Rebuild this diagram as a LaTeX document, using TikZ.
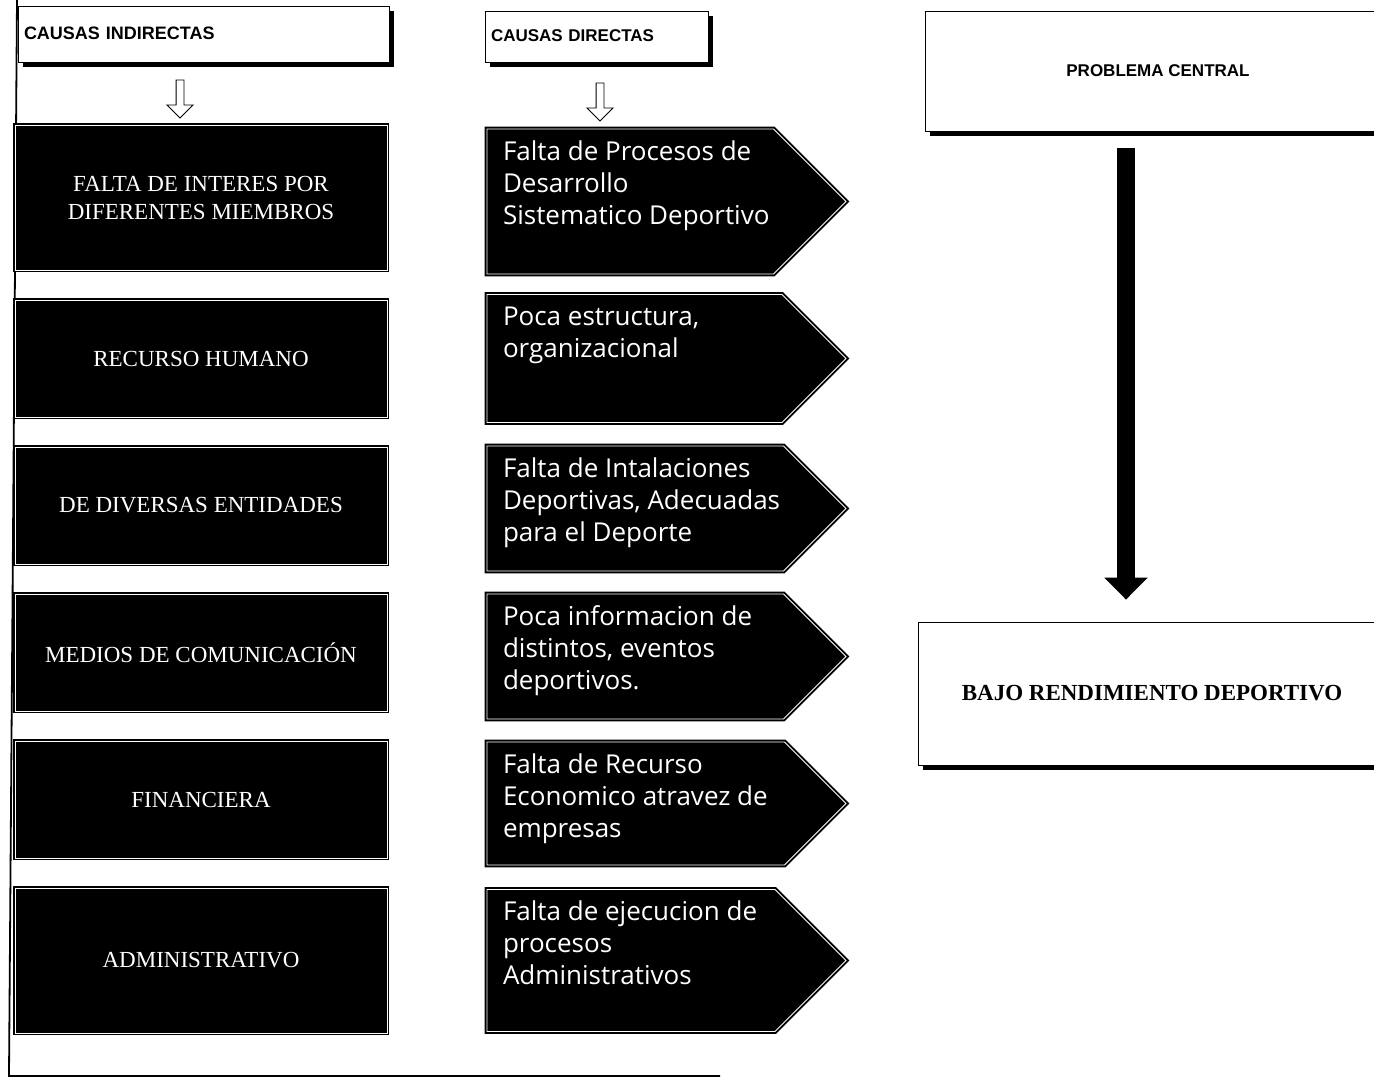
\documentclass[tikz,border=0pt]{standalone}
\usepackage{fontspec}
\setmainfont{Liberation Serif}
\setsansfont{Liberation Sans}
\newfontfamily\signfont{Open Sans}
\usetikzlibrary{shapes,arrows.meta,positioning,shadows}

\newcommand{\signtext}[2]{\parbox[c][\dimexpr#1-18pt\relax][t]{\dimexpr327pt-#1/2\relax}{\begin{tabular}{@{}l@{}}#2\end{tabular}}}

\begin{document}
\begin{tikzpicture}[
    x=1pt, y=-1pt,
    node distance=28pt and 98pt,
    header/.style={draw, thick, fill=white, inner xsep=6pt, align=left,
      drop shadow={shadow xshift=5pt, shadow yshift=-5pt, fill=black, opacity=1},
      font=\sffamily\bfseries\fontsize{17}{20}\selectfont},
    cause/.style={rectangle, fill=black, draw=black, line width=2pt,
      double=white, double distance=0.8pt, text=white, align=center,
      minimum width=372pt, minimum height=117pt,
      font=\fontsize{23}{28}\selectfont},
    effect/.style={signal, signal to=east, signal pointer angle=90,
      fill=black, draw=black, line width=2pt, double=white,
      double distance=0.8pt, text=white, inner xsep=16pt, inner ysep=9pt,
      font=\signfont\fontsize{26}{32}\selectfont},
    hollow/.style={single arrow, draw, thick, fill=white, inner sep=3.5pt,
      shape border rotate=270, minimum width=25pt, minimum height=38pt,
      single arrow head extend=9pt},
    bigarrow/.style={line width=18pt, -{Triangle[length=22pt, width=42pt]}}
  ]
  \useasboundingbox (0,0) rectangle (1374,1078);

  % Frame
  \draw[line width=1.8pt] (17,0) -- (9,1076) -- (720,1076);

  % Headers
  \node[header, minimum width=371pt, minimum height=56pt, text width=359pt,
    text depth=2pt, font=\sffamily\bfseries\fontsize{18}{20}\selectfont] (indir) at (203.5,34) {CAUSAS INDIRECTAS};
  \node[header, minimum width=223pt, minimum height=51pt, text width=211pt,
    text depth=2pt] (dir) at (596.5,37) {CAUSAS DIRECTAS};
  \node[header, minimum width=466pt, minimum height=120pt, align=center] (prob) at (1158,71) {PROBLEMA CENTRAL};
  \node[header, minimum width=468pt, minimum height=143pt, align=center,
    font=\bfseries\fontsize{23}{28}\selectfont] (bajo) at (1152,693.5) {BAJO RENDIMIENTO DEPORTIVO};

  \node[hollow] (a1) at (180,97) {};
  \node[hollow] (a2) at (600,100) {};

  % Indirect causes
  \node[cause, minimum height=145pt] (c1) at (201,197.5) {FALTA DE INTERES POR\\DIFERENTES MIEMBROS};
  \node[cause, below=of c1] (c2) {RECURSO HUMANO};
  \node[cause, below=of c2] (c3) {DE DIVERSAS ENTIDADES};
  \node[cause, below=of c3] (c4) {MEDIOS DE COMUNICACIÓN};
  \node[cause, below=of c4] (c5) {FINANCIERA};
  \node[cause, below=of c5, minimum height=145pt] (c6) {ADMINISTRATIVO};

  % Direct causes
  \node[effect, right=of c1, yshift=-4pt] (e1) {\signtext{145pt}{Falta de Procesos de\\Desarrollo\\Sistematico Deportivo}};
  \node[effect, right=of c2] (e2) {\signtext{128pt}{Poca estructura,\\organizacional}};
  \node[effect, right=of c3, yshift=-3pt] (e3) {\signtext{125pt}{Falta de Intalaciones\\Deportivas, Adecuadas\\para el Deporte}};
  \node[effect, right=of c4, yshift=-4pt] (e4) {\signtext{125pt}{Poca informacion de\\distintos, eventos\\deportivos.}};
  \node[effect, right=of c5, yshift=-4pt] (e5) {\signtext{123pt}{Falta de Recurso\\Economico atravez de\\empresas}};
  \node[effect, right=of c6] (e6) {\signtext{142pt}{Falta de ejecucion de\\procesos\\Administrativos}};

  % Central arrow
  \coordinate (axis) at (1126,0);
  \draw[bigarrow, shorten <=17pt, shorten >=22pt] (prob.south -| axis) -- (bajo.north -| axis);

\end{tikzpicture}
\end{document}
